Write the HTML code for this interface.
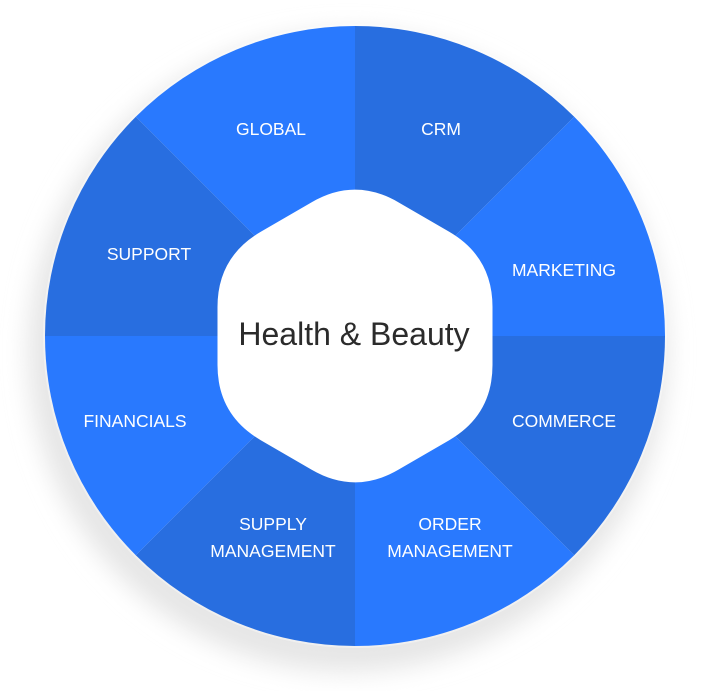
<!DOCTYPE html>
<html><head><meta charset="utf-8"><style>
html,body{margin:0;padding:0;background:#fff;width:702px;height:691px;overflow:hidden}
svg{display:block}
text{font-family:"Liberation Sans",sans-serif;fill:#fff;font-size:17.5px;text-anchor:middle;dominant-baseline:central}
</style></head><body>
<svg width="702" height="691" viewBox="0 0 702 691">
<defs><filter id="b" x="-20%" y="-20%" width="140%" height="140%"><feGaussianBlur stdDeviation="12"/></filter></defs>
<circle cx="348" cy="352" r="320" fill="#e6e6e6" filter="url(#b)"/>
<circle cx="355" cy="336" r="312" fill="#fff" opacity="0.4"/>
<g stroke="none">
<path d="M355 336 L135.8 116.8 A310 310 0 0 1 355 26 Z" fill="#2979fe"/>
<path d="M355 336 L355 26 A310 310 0 0 1 574.2 116.8 Z" fill="#286ee0"/>
<path d="M355 336 L574.2 116.8 A310 310 0 0 1 665 336 Z" fill="#2979fe"/>
<path d="M355 336 L665 336 A310 310 0 0 1 574.2 555.2 Z" fill="#286ee0"/>
<path d="M355 336 L574.2 555.2 A310 310 0 0 1 355 646 Z" fill="#2979fe"/>
<path d="M355 336 L355 646 A310 310 0 0 1 135.8 555.2 Z" fill="#286ee0"/>
<path d="M355 336 L135.8 555.2 A310 310 0 0 1 45 336 Z" fill="#2979fe"/>
<path d="M355 336 L45 336 A310 310 0 0 1 135.8 116.8 Z" fill="#286ee0"/>
</g>
<path d="M311.7 202.2 Q355 177 398.3 202.2 L449.2 231.8 Q492.5 257 492.5 307 L492.5 365 Q492.5 415 449.2 440.2 L398.3 469.8 Q355 495 311.7 469.8 L260.8 440.2 Q217.5 415 217.5 365 L217.5 307 Q217.5 257 260.8 231.8 Z" fill="#fff"/>
<text x="354" y="334" style="fill:#2b2b2b;font-size:32px">Health &amp; Beauty</text>
<text x="271" y="129">GLOBAL</text>
<text x="441" y="129">CRM</text>
<text x="564" y="270">MARKETING</text>
<text x="564" y="421">COMMERCE</text>
<text x="450" y="524">ORDER</text>
<text x="450" y="551">MANAGEMENT</text>
<text x="273" y="524">SUPPLY</text>
<text x="273" y="551">MANAGEMENT</text>
<text x="135" y="421">FINANCIALS</text>
<text x="149" y="254">SUPPORT</text>
</svg>
</body></html>
